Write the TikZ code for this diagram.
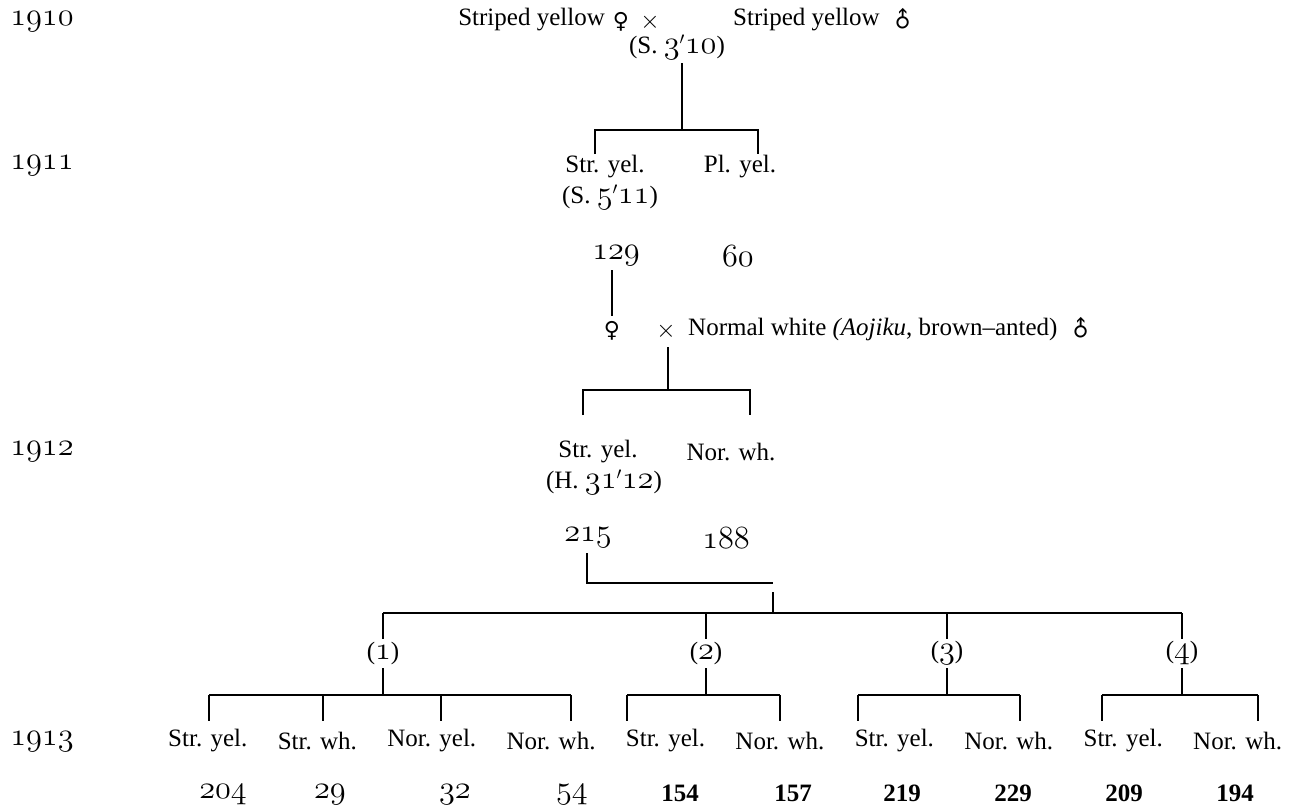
\documentclass[tikz,border=0pt]{standalone}
\usepackage{fontspec}
\setmainfont{Liberation Serif}
\newfontfamily\symfont{DejaVu Sans}
\newcommand\osf[1]{\scalebox{1.3}{\ensuremath{\mathnormal{#1}}}}
\newcommand\femsym{{\symfont\fontsize{22}{24}\selectfont\char"2640}}
\newcommand\malsym{\raisebox{1pt}{\rotatebox{45}{\symfont\fontsize{22}{24}\selectfont\char"2642}}}
\tikzset{
  lbl/.style={font=\fontsize{25}{30}\selectfont, inner sep=0pt},
  ln/.style={line width=1.1pt, black}
}
\begin{document}
\begin{tikzpicture}[x=1pt,y=-1pt]
\useasboundingbox (0,0) rectangle (1295,807);
% years
\node[lbl] (y1910) at (42,22) {\osf{1910}};
\node[lbl] (y1911) at (42,166) {\osf{1911}};
\node[lbl] (y1912) at (42,452) {\osf{1912}};
\node[lbl] (y1913) at (42,742) {\osf{1913}};
% 1910
\node[lbl,anchor=east] (sy1) at (605,20) {Striped yellow};
\node[lbl] (f1) at (621,22) {\femsym};
\node[lbl] (x1) at (650,22) {$\times$};
\node[lbl,anchor=west] (sy2) at (733,20) {Striped yellow};
\node[lbl,anchor=west] (m1) at ([xshift=10pt]sy2.east) {\malsym};
\node[lbl] (s310) at (677,47) {(S. \osf{3}$'$\osf{10})};
\coordinate (a0) at (682,63);
\coordinate (a1) at (682,130);
\coordinate (a2) at (595,130);
\coordinate (a3) at (758,130);
\coordinate (a2b) at (595,154);
\coordinate (a3b) at (758,154);
\draw[ln] (a0) -- (a1);
\draw[ln] (a2b) -- (a2) -- (a3) -- (a3b);
% 1911
\node[lbl] (sy11) at (605,167) {Str. yel.};
\node[lbl] (py11) at (740,167) {Pl. yel.};
\node[lbl] (s511) at (610,197) {(S. \osf{5}$'$\osf{11})};
\node[lbl] (n129) at (616,256) {\osf{129}};
\node[lbl] (n60) at (738,256) {\osf{60}};
\coordinate (b0) at (612,270);
\coordinate (b1) at (612,316);
\draw[ln] (b0) -- (b1);
\node[lbl] (f2) at (612,331) {\femsym};
\node[lbl] (x2) at (666,331) {$\times$};
\node[lbl,anchor=west] (nw) at (688,329) {Normal white \textit{(Aojiku}, brown–anted)};
\node[lbl,anchor=west] (m2) at ([xshift=10pt]nw.east) {\malsym};
\coordinate (c0) at (668,347);
\coordinate (c1) at (668,390);
\coordinate (c2) at (583,390);
\coordinate (c3) at (750,390);
\coordinate (c2b) at (583,415);
\coordinate (c3b) at (750,415);
\draw[ln] (c0) -- (c1);
\draw[ln] (c2b) -- (c2) -- (c3) -- (c3b);
% 1912
\node[lbl] (sy12) at (598,452) {Str. yel.};
\node[lbl] (nw12) at (731,452) {Nor. wh.};
\node[lbl] (h3112) at (604,482) {(H. \osf{31}$'$\osf{12})};
\node[lbl] (n215) at (588,538) {\osf{215}};
\node[lbl] (n188) at (726,538) {\osf{188}};
\coordinate (d0) at (587,553);
\coordinate (d1) at (587,583);
\coordinate (d2) at (773,583);
\coordinate (d3) at (773,592);
\coordinate (d4) at (773,613);
\draw[ln] (d0) -- (d1) -- (d2);
\draw[ln] (d3) -- (d4);
% long bracket
\coordinate (e1) at (383,613);
\coordinate (e4) at (1182,613);
\draw[ln] (e1) -- (e4);
\foreach \i/\xx in {1/383,2/706,3/947,4/1182}{
  \coordinate (eu\i) at (\xx,613);
  \coordinate (ed\i) at (\xx,639);
  \draw[ln] (eu\i) -- (ed\i);
  \node[lbl] (g\i) at (\xx,653) {(\osf{\i})};
  \coordinate (gu\i) at (\xx,668);
  \coordinate (gd\i) at (\xx,695);
  \draw[ln] (gu\i) -- (gd\i);
}
% sub brackets
\coordinate (h1) at (209,695);
\coordinate (h4) at (571,695);
\coordinate (h5) at (627,695);
\coordinate (h6) at (780,695);
\coordinate (h7) at (858,695);
\coordinate (h8) at (1020,695);
\coordinate (h9) at (1102,695);
\coordinate (h10) at (1258,695);
\draw[ln] (h1) -- (h4);
\draw[ln] (h5) -- (h6);
\draw[ln] (h7) -- (h8);
\draw[ln] (h9) -- (h10);
\foreach \xx [count=\k] in {209,323,441,571,627,780,858,1020,1102,1258}{
  \coordinate (vu\k) at (\xx,695);
  \coordinate (vd\k) at (\xx,721);
  \draw[ln] (vu\k) -- (vd\k);
}
% 1913 row
\node[lbl,anchor=west] (t1) at (168,741) {Str. yel.};
\node[lbl,anchor=west] (t2) at ([xshift=30pt]t1.east) {Str. wh.};
\node[lbl,anchor=west] (t3) at ([xshift=30pt]t2.east) {Nor. yel.};
\node[lbl,anchor=west] (t4) at ([xshift=30pt]t3.east) {Nor. wh.};
\node[lbl,anchor=west] (t5) at ([xshift=30pt]t4.east) {Str. yel.};
\node[lbl,anchor=west] (t6) at ([xshift=30pt]t5.east) {Nor. wh.};
\node[lbl,anchor=west] (t7) at ([xshift=30pt]t6.east) {Str. yel.};
\node[lbl,anchor=west] (t8) at ([xshift=30pt]t7.east) {Nor. wh.};
\node[lbl,anchor=west] (t9) at ([xshift=30pt]t8.east) {Str. yel.};
\node[lbl,anchor=west] (t10) at ([xshift=30pt]t9.east) {Nor. wh.};
% numbers
\node[lbl] (c1n) at (223,795) {\osf{204}};
\node[lbl] (c2n) at (330,795) {\osf{29}};
\node[lbl] (c3n) at (455,795) {\osf{32}};
\node[lbl] (c4n) at (572,795) {\osf{54}};
\node[lbl] (c5n) at (680,793) {\textbf{154}};
\node[lbl] (c6n) at (793,793) {\textbf{157}};
\node[lbl] (c7n) at (902,793) {\textbf{219}};
\node[lbl] (c8n) at (1013,793) {\textbf{229}};
\node[lbl] (c9n) at (1124,793) {\textbf{209}};
\node[lbl] (c10n) at (1235,793) {\textbf{194}};
\end{tikzpicture}
\end{document}
